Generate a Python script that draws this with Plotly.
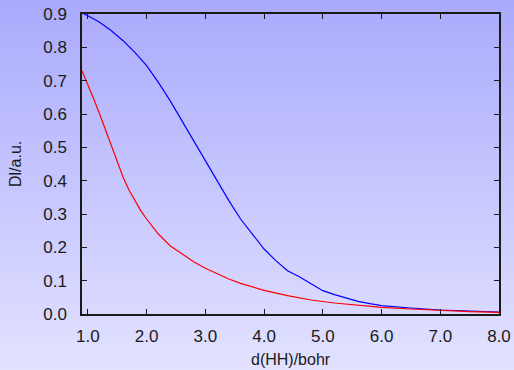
import plotly.graph_objects as go

blue_x = [0.93, 1.0, 1.2, 1.4, 1.6, 1.8, 2.0, 2.2, 2.4, 2.6, 2.8, 3.0, 3.2, 3.4, 3.6, 3.8,
          4.0, 4.2, 4.4, 4.6, 4.8, 5.0, 5.2, 5.4, 5.6, 5.8, 6.0, 6.5, 7.0, 7.5, 8.0]
blue_y = [0.90, 0.895, 0.875, 0.85, 0.82, 0.785, 0.745, 0.695, 0.64, 0.58, 0.52, 0.46, 0.40,
          0.34, 0.285, 0.24, 0.195, 0.16, 0.13, 0.112, 0.09, 0.07, 0.058, 0.047, 0.038, 0.031,
          0.025, 0.018, 0.012, 0.009, 0.006]

red_x = [0.9, 1.0, 1.1, 1.2, 1.3, 1.4, 1.5, 1.6, 1.7, 1.8, 1.9, 2.0, 2.1, 2.2, 2.4, 2.6, 2.8,
         3.0, 3.2, 3.4, 3.6, 3.8, 4.0, 4.4, 4.8, 5.2, 5.6, 6.0, 6.5, 7.0, 7.5, 8.0]
red_y = [0.73, 0.69, 0.645, 0.60, 0.553, 0.505, 0.455, 0.41, 0.372, 0.34, 0.31, 0.285, 0.262,
         0.24, 0.205, 0.18, 0.157, 0.137, 0.12, 0.105, 0.092, 0.081, 0.071, 0.055, 0.042,
         0.033, 0.026, 0.02, 0.015, 0.01, 0.007, 0.005]

x_ticks = [1, 2, 3, 4, 5, 6, 7, 8]
x_tick_labels = ["1.0", "2.0", "3.0", "4.0", "5.0", "6.0", "7.0", "8.0"]
y_ticks = [0.0, 0.1, 0.2, 0.3, 0.4, 0.5, 0.6, 0.7, 0.8, 0.9]
y_tick_labels = ["0.0", "0.1", "0.2", "0.3", "0.4", "0.5", "0.6", "0.7", "0.8", "0.9"]
x_title = "d(HH)/bohr"
y_title = "Dl/a.u."

W, H = 514, 370
ML, MR, MT, MB = 82, 15, 14, 56
pw, ph = W - ML - MR, H - MT - MB

FONT = "Liberation Sans, Arial, sans-serif"
TXT = "#1a1a1a"

fig = go.Figure()
fig.add_trace(go.Scatter(x=blue_x, y=blue_y, mode="lines",
                         line=dict(color="#0000ff", width=1.2), showlegend=False))
fig.add_trace(go.Scatter(x=red_x, y=red_y, mode="lines",
                         line=dict(color="#ff0000", width=1.2), showlegend=False))

# vertical background gradient over the whole image
top = (170, 170, 253)
bot = (226, 226, 255)
n = 74
shapes = []
for i in range(n):
    t0 = i / n
    t1 = (i + 1) / n
    tm = (t0 + t1) / 2
    c = tuple(round(top[k] + (bot[k] - top[k]) * tm) for k in range(3))
    py0 = t0 * H - (2 if i == 0 else 0)
    py1 = t1 * H + (0.6 if i < n - 1 else 3)
    y0 = (H - MB - py0) / ph
    y1 = (H - MB - py1) / ph
    shapes.append(dict(type="rect", xref="paper", yref="paper",
                       x0=-ML / pw - 0.02, x1=1 + MR / pw + 0.02, y0=y1, y1=y0,
                       fillcolor="rgb(%d,%d,%d)" % c, line=dict(width=0), layer="below"))

axis_common = dict(showline=True, linecolor="#1a1a1a", linewidth=1.5, mirror="ticks",
                   ticks="inside", ticklen=5, tickcolor="#1a1a1a", tickwidth=1,
                   showgrid=False, zeroline=False, automargin=False,
                   tickfont=dict(family=FONT, size=17, color=TXT))

annotations = [
    dict(text=x_title, xref="paper", yref="paper", x=0.5, y=(H - MB - 359) / ph,
         xanchor="center", yanchor="middle", showarrow=False,
         font=dict(family=FONT, size=16, color=TXT)),
    dict(text=y_title, xref="paper", yref="paper", x=(15 - ML) / pw, y=0.5,
         xanchor="center", yanchor="middle", textangle=-90, showarrow=False,
         font=dict(family=FONT, size=16, color=TXT)),
]

fig.update_layout(
    width=W, height=H,
    margin=dict(l=ML, r=MR, t=MT, b=MB, autoexpand=False),
    paper_bgcolor="rgba(0,0,0,0)", plot_bgcolor="rgba(0,0,0,0)",
    shapes=shapes, annotations=annotations,
    font=dict(family=FONT, size=16, color=TXT),
    xaxis=dict(range=[0.9, 8.0], tickvals=x_ticks, ticktext=x_tick_labels,
               ticklabelstandoff=6, **axis_common),
    yaxis=dict(range=[0.0, 0.9], tickvals=y_ticks, ticktext=y_tick_labels,
               ticklabelstandoff=10, **axis_common),
)

fig.write_html("out.html",
               post_script="document.body.style.margin='0';document.documentElement.style.overflow='hidden';",
               config={"displayModeBar": False})
